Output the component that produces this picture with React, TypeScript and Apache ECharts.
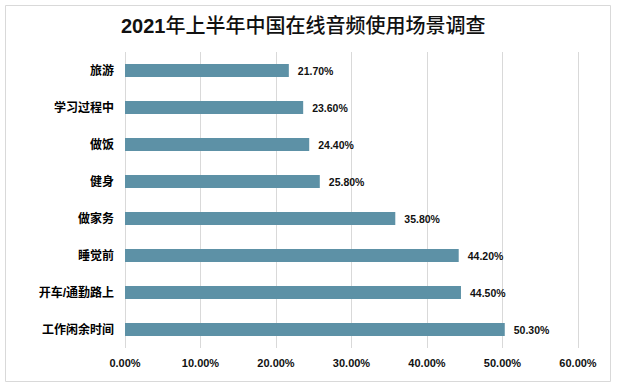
import React, { useEffect, useRef } from "react";
import * as echarts from "echarts";

const titleYear = "2021";
const titleRest = "年上半年中国在线音频使用场景调查";
const categories = ["旅游", "学习过程中", "做饭", "健身", "做家务", "睡觉前", "开车/通勤路上", "工作闲余时间"];
const values = [21.7, 23.6, 24.4, 25.8, 35.8, 44.2, 44.5, 50.3];
const xTicks = [0, 10, 20, 30, 40, 50, 60];

const FONT = "'Liberation Sans', 'Noto Sans CJK SC', sans-serif";

export default function App() {
  const ref = useRef<HTMLDivElement>(null);
  useEffect(() => {
    document.body.style.margin = "0";
    const chart = echarts.init(ref.current!, null, { renderer: "svg" });
    chart.setOption({
      animation: false,
      backgroundColor: "#ffffff",
      title: {
        text: "{a|" + titleYear + "}{b|" + titleRest + "}",
        left: 121,
        top: 16,
        padding: 0,
        textStyle: {
          fontSize: 20,
          color: "#111",
          fontFamily: FONT,
          rich: {
            a: { fontSize: 20, fontWeight: "bold", color: "#111", fontFamily: FONT },
            b: { fontSize: 20, fontWeight: 500, color: "#111", fontFamily: FONT },
          },
        },
      },
      graphic: [
        {
          type: "rect",
          shape: { x: 5.5, y: 5.5, width: 605, height: 376 },
          style: { fill: "none", stroke: "#d9d9d9", lineWidth: 1 },
          silent: true,
        },
      ],
      grid: { left: 125, right: 39, top: 52, bottom: 39, containLabel: false },
      xAxis: {
        type: "value",
        min: xTicks[0],
        max: xTicks[xTicks.length - 1],
        interval: 10,
        axisLine: { show: false },
        axisTick: { show: false },
        splitLine: { show: true, lineStyle: { color: "#d9d9d9", width: 1 } },
        axisLabel: {
          margin: 9,
          fontSize: 11,
          fontWeight: "bold",
          color: "#111",
          fontFamily: FONT,
          formatter: (v: number) => v.toFixed(2) + "%",
        },
      },
      yAxis: {
        type: "category",
        data: categories,
        inverse: true,
        axisLine: { show: false },
        axisTick: { show: false },
        axisLabel: { margin: 11, fontSize: 12, fontWeight: "bold", color: "#000", fontFamily: FONT },
      },
      series: [
        {
          type: "bar",
          data: values,
          barWidth: 13,
          itemStyle: { color: "#5d91a6" },
          label: {
            show: true,
            position: "right",
            distance: 9,
            fontSize: 10.5,
            fontWeight: "bold",
            color: "#111",
            fontFamily: FONT,
            formatter: (p: any) => Number(p.value).toFixed(2) + "%",
          },
        },
      ],
    });
    return () => chart.dispose();
  }, []);
  return <div ref={ref} style={{ width: 617, height: 387 }} />;
}
